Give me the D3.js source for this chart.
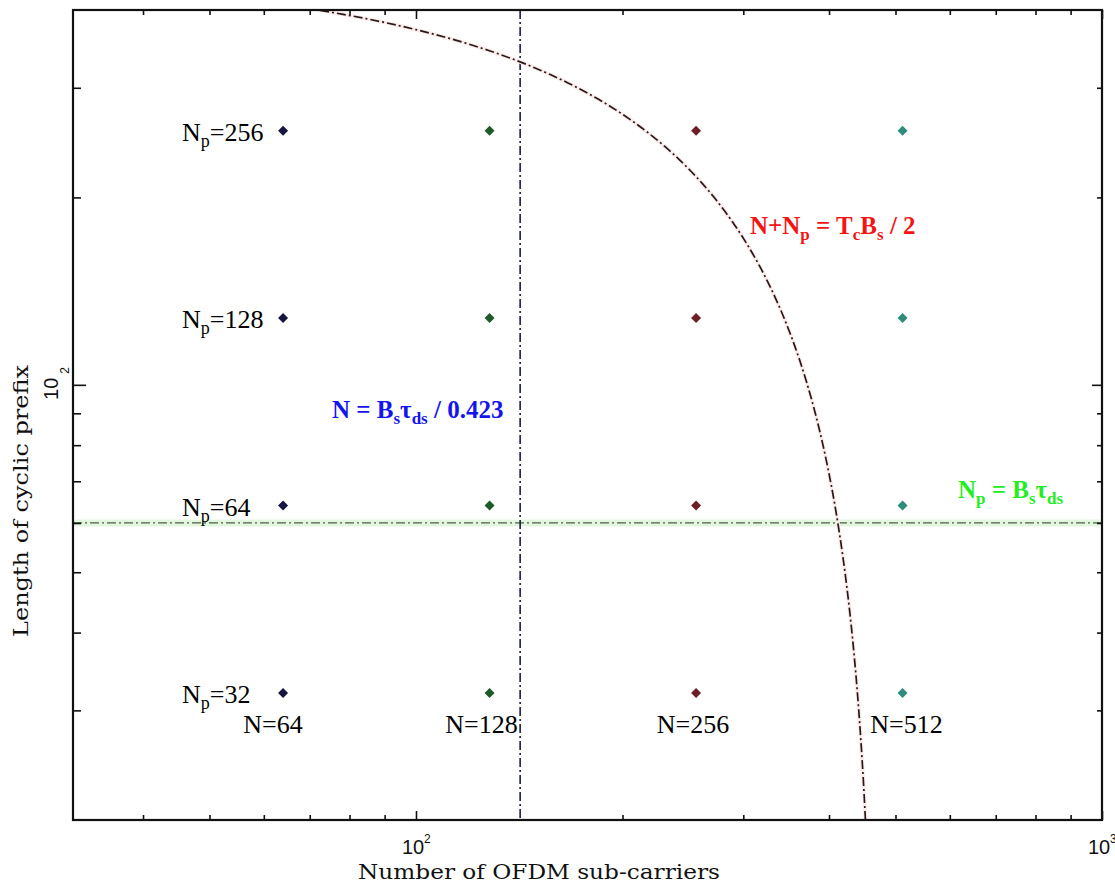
<!DOCTYPE html>
<html>
<head>
<meta charset="utf-8">
<script src="https://cdn.jsdelivr.net/npm/d3@7"></script>
<style>
  html, body { margin: 0; padding: 0; background: #fff; }
  svg { display: block; }
</style>
</head>
<body>
<svg id="chart" width="1115" height="884"></svg>
<script>
// OFDM design space: sub-carriers N vs. cyclic prefix length Np (log-log)
const subcarriers = [64, 128, 256, 512];
const prefixLengths = [32, 64, 128, 256];
const subcarrierLabels = ["N=64", "N=128", "N=256", "N=512"];
const prefixLabels = ["=32", "=64", "=128", "=256"];
const delaySpreadSamples = 60;     // Bs * tau_ds
const delayRatio = 0.423;          // N = Bs*tau_ds / 0.423
const coherenceSamples = 472;      // Tc * Bs / 2 = N + Np
const xMinorTicks = [40, 50, 60, 70, 80, 90, 200, 300, 400, 500, 600, 700, 800, 900];
const xMajorTicks = [100, 1000];
const yMinorTicks = [30, 40, 50, 60, 70, 80, 90, 200, 300];
const yMajorTicks = [100];

const pointColors = ["#15153f", "#1f5a2a", "#6c1f24", "#2f8c7b"];

const svg = d3.select("#chart");
const pLeft = 73, pRight = 1102, pTop = 10, pBottom = 820;

const x = d3.scaleLog().domain([Math.pow(10, 1.5), 1000]).range([pLeft, pRight]);
const y = d3.scaleLog().domain([20, 400]).range([pBottom, pTop]);

const plot = svg.append("g");
plot.append("clipPath").attr("id", "clip")
  .append("rect").attr("x", pLeft).attr("y", pTop)
  .attr("width", pRight - pLeft).attr("height", pBottom - pTop);

// ticks pointing inward on all four sides
function ticks(axisFn, vals, size, transform) {
  const g = svg.append("g").attr("transform", transform)
    .call(axisFn.tickValues(vals).tickSize(size).tickFormat(""));
  g.select(".domain").remove();
  g.selectAll("line").attr("stroke", "#111").attr("stroke-width", 1.6);
  return g;
}
ticks(d3.axisBottom(x), xMinorTicks, -5, `translate(0,${pBottom})`);
ticks(d3.axisBottom(x), xMajorTicks, -9, `translate(0,${pBottom})`);
ticks(d3.axisTop(x), xMinorTicks, -5, `translate(0,${pTop})`);
ticks(d3.axisTop(x), xMajorTicks, -9, `translate(0,${pTop})`);
ticks(d3.axisLeft(y), yMinorTicks, -8, `translate(${pLeft},0)`);
ticks(d3.axisLeft(y), yMajorTicks, -13, `translate(${pLeft},0)`);
ticks(d3.axisRight(y), yMinorTicks, -5, `translate(${pRight},0)`);
ticks(d3.axisRight(y), yMajorTicks, -10, `translate(${pRight},0)`);

// guide lines
const dashDot = "9,3,2,3";
const clipped = plot.append("g").attr("clip-path", "url(#clip)");

// Np = Bs*tau_ds  (horizontal, pale green haze)
clipped.append("line")
  .attr("x1", pLeft).attr("x2", pRight)
  .attr("y1", y(delaySpreadSamples)).attr("y2", y(delaySpreadSamples))
  .attr("stroke", "#e3f7df").attr("stroke-width", 7);
clipped.append("line")
  .attr("x1", pLeft).attr("x2", pRight)
  .attr("y1", y(delaySpreadSamples)).attr("y2", y(delaySpreadSamples))
  .attr("stroke", "#4b5e4b").attr("stroke-width", 1.3)
  .attr("stroke-dasharray", dashDot);

// N = Bs*tau_ds / 0.423  (vertical)
const nLimit = delaySpreadSamples / delayRatio;
clipped.append("line")
  .attr("x1", x(nLimit)).attr("x2", x(nLimit))
  .attr("y1", pTop).attr("y2", pBottom)
  .attr("stroke", "#1c1c40").attr("stroke-width", 1.6)
  .attr("stroke-dasharray", dashDot);

// N + Np = Tc*Bs/2  (curve)
const npSamples = d3.range(0, 201).map(i => 20 * Math.pow(400 / 20, i / 200));
const curve = npSamples.map(np => [coherenceSamples - np, np]);
const line = d3.line().x(d => x(d[0])).y(d => y(d[1]));
clipped.append("path").datum(curve)
  .attr("d", line).attr("fill", "none")
  .attr("stroke", "#fbecec").attr("stroke-width", 4);
clipped.append("path").datum(curve)
  .attr("d", line).attr("fill", "none")
  .attr("stroke", "#2a1818").attr("stroke-width", 1.7)
  .attr("stroke-dasharray", dashDot);

// grid of design points
const pts = [];
subcarriers.forEach((n, i) => prefixLengths.forEach(np => pts.push({ n, np, c: pointColors[i] })));
plot.selectAll("path.pt").data(pts).enter().append("path")
  .attr("class", "pt")
  .attr("d", d => {
    const cx = x(d.n), cy = y(d.np), r = 5;
    return `M${cx},${cy - r}L${cx + r},${cy}L${cx},${cy + r}L${cx - r},${cy}Z`;
  })
  .attr("fill", d => d.c);

// frame
svg.append("rect").attr("x", pLeft).attr("y", pTop)
  .attr("width", pRight - pLeft).attr("height", pBottom - pTop)
  .attr("fill", "none").attr("stroke", "#111").attr("stroke-width", 2.2);

// point labels
const serif = "Liberation Serif, Times New Roman, serif";
prefixLabels.forEach((lab, i) => {
  const t = svg.append("text")
    .attr("x", 182).attr("y", y(prefixLengths[i]) + 10)
    .attr("font-family", serif).attr("font-size", 26).attr("fill", "#000");
  t.append("tspan").text("N");
  t.append("tspan").attr("font-size", 18).attr("dy", 6).text("p");
  t.append("tspan").attr("dy", -6).text(lab);
});
const nLabelOffsets = [-10, -8, -3, 4];
subcarriers.forEach((n, i) => {
  svg.append("text")
    .attr("x", x(n) + nLabelOffsets[i]).attr("y", 733)
    .attr("text-anchor", "middle")
    .attr("font-family", serif).attr("font-size", 26).attr("fill", "#000")
    .text(subcarrierLabels[i]);
});

// equation annotations
function formula(px, py, color, parts) {
  const t = svg.append("text").attr("x", px).attr("y", py)
    .attr("font-family", serif).attr("font-size", 25)
    .attr("font-weight", "bold").attr("fill", color);
  let shifted = false;
  parts.forEach(([s, sub]) => {
    const ts = t.append("tspan").text(s);
    if (sub && !shifted) { ts.attr("dy", 6).attr("font-size", 17); shifted = true; }
    else if (sub) { ts.attr("font-size", 17); }
    else if (shifted) { ts.attr("dy", -6); shifted = false; }
  });
}
formula(750, 234, "#f41414",
  [["N+N"], ["p", true], [" = T"], ["c", true], ["B"], ["s", true], [" / 2"]]);
formula(332, 418, "#1414f0",
  [["N = B"], ["s", true], ["τ"], ["ds", true], [" / 0.423"]]);
formula(958, 498, "#22ee22",
  [["N"], ["p", true], [" = B"], ["s", true], ["τ"], ["ds", true]]);

// tick labels: powers of ten
const tickFont = "Liberation Sans, Arial, sans-serif";
[[100, "2"], [1000, "3"]].forEach(([v, e]) => {
  svg.append("text").attr("x", x(v) - 3).attr("y", 854)
    .attr("text-anchor", "middle").attr("font-family", tickFont)
    .attr("font-size", 20).attr("fill", "#111").text("10");
  svg.append("text").attr("x", x(v) + 8).attr("y", 843)
    .attr("font-family", tickFont).attr("font-size", 12).attr("fill", "#111").text(e);
});
svg.append("text")
  .attr("transform", `translate(58,${y(100) + 4}) rotate(-90)`)
  .attr("text-anchor", "middle").attr("font-family", tickFont)
  .attr("font-size", 20).attr("fill", "#111").text("10");
svg.append("text")
  .attr("transform", `translate(69,${y(100) - 11}) rotate(-90)`)
  .attr("font-family", tickFont).attr("font-size", 12).attr("fill", "#111").text("2");

// axis titles
const slab = "DejaVu Serif, serif";
svg.append("text")
  .attr("x", 539).attr("y", 879)
  .attr("text-anchor", "middle").attr("font-family", slab)
  .attr("font-size", 20).attr("fill", "#111")
  .attr("textLength", 362).attr("lengthAdjust", "spacingAndGlyphs")
  .text("Number of OFDM sub-carriers");
svg.append("text")
  .attr("transform", "translate(28,501) rotate(-90)")
  .attr("text-anchor", "middle").attr("font-family", slab)
  .attr("font-size", 20).attr("fill", "#111")
  .attr("textLength", 272).attr("lengthAdjust", "spacingAndGlyphs")
  .text("Length of cyclic prefix");
</script>
</body>
</html>
